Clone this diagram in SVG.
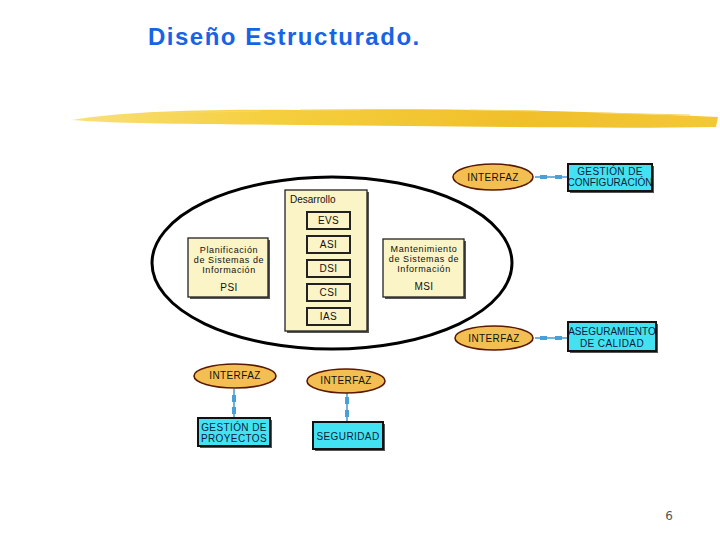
<svg xmlns="http://www.w3.org/2000/svg" width="720" height="540" viewBox="0 0 720 540">
<defs>
<linearGradient id="brush" x1="0" y1="0" x2="1" y2="0">
<stop offset="0" stop-color="#f9e07a"/>
<stop offset="0.3" stop-color="#f5cf3e"/>
<stop offset="0.7" stop-color="#f0bf2a"/>
<stop offset="1" stop-color="#f3c838"/>
</linearGradient>
<style>
.t{font-family:"Liberation Sans",Arial,sans-serif;font-size:10px;fill:#111;text-anchor:middle;letter-spacing:0.4px}
.s{font-size:9px;letter-spacing:0.6px}
.ty{fill:#fbf4c6;stroke:#222;stroke-width:1.3}
.tin{fill:#fbf4c6;stroke:#222;stroke-width:2}
.sh{fill:#555}
.cy{fill:#42e2f2;stroke:#111;stroke-width:2}
.ifz{fill:#f4bf52;stroke:#5a1800;stroke-width:1.6}
.cl{stroke:#4a9fd6;stroke-width:1.6;fill:none}
.sq{fill:#4a9fd6}
</style>
</defs>
<rect width="720" height="540" fill="#fff"/>
<text x="148" y="45" font-family="Liberation Sans,Arial,sans-serif" font-weight="bold" font-size="24" letter-spacing="1.5" fill="#1763e6">Diseño Estructurado.</text>
<path d="M72,120 C120,112 200,109 300,110 C420,108 560,110 718,117 L716,127 C600,129 450,126 300,125 C200,124 120,124 72,120 Z" fill="url(#brush)"/>
<path d="M150,113 L260,111 M300,110 L360,110 M470,110 L540,111 M600,113 L690,115" stroke="#f7d866" stroke-width="1" fill="none"/>

<g id="ciclo">
<ellipse cx="332" cy="263" rx="180" ry="86" fill="none" stroke="#000" stroke-width="3"/>
</g>

<g id="connectors">
<line class="cl" x1="535" y1="177" x2="567" y2="177"/>
<rect class="sq" x="540" y="175" width="7" height="4"/>
<rect class="sq" x="555" y="175" width="7" height="4"/>
<line class="cl" x1="535" y1="338" x2="567" y2="338"/>
<rect class="sq" x="540" y="336" width="7" height="4"/>
<rect class="sq" x="555" y="336" width="7" height="4"/>
<line class="cl" x1="234" y1="389" x2="234" y2="418"/>
<rect class="sq" x="232" y="395" width="4" height="7"/>
<rect class="sq" x="232" y="407" width="4" height="7"/>
<line class="cl" x1="347" y1="393" x2="347" y2="422"/>
<rect class="sq" x="345" y="397" width="4" height="7"/>
<rect class="sq" x="345" y="410" width="4" height="7"/>
</g>

<g id="psi">
<rect class="sh" x="190" y="240" width="80" height="59"/>
<rect class="ty" x="188" y="238" width="80" height="59"/>
<text class="t s" x="229" y="253">Planificación</text>
<text class="t s" x="229" y="263">de Sistemas de</text>
<text class="t s" x="229" y="273">Información</text>
<text class="t" x="229" y="291">PSI</text>
</g>

<g id="desarrollo">
<rect class="sh" x="287" y="192" width="82" height="141"/>
<rect class="ty" x="285" y="190" width="82" height="141"/>
<text class="t" x="290" y="203" style="text-anchor:start;letter-spacing:0">Desarrollo</text>
</g>
<g id="evs"><rect class="tin" x="307" y="212" width="43" height="17"/><text class="t" x="328.5" y="224">EVS</text></g>
<g id="asi"><rect class="tin" x="307" y="236" width="43" height="17"/><text class="t" x="328.5" y="248">ASI</text></g>
<g id="dsi"><rect class="tin" x="307" y="260" width="43" height="17"/><text class="t" x="328.5" y="272">DSI</text></g>
<g id="csi"><rect class="tin" x="307" y="284" width="43" height="17"/><text class="t" x="328.5" y="296">CSI</text></g>
<g id="ias"><rect class="tin" x="307" y="308" width="43" height="17"/><text class="t" x="328.5" y="320">IAS</text></g>

<g id="msi">
<rect class="sh" x="385" y="241" width="81" height="58"/>
<rect class="ty" x="383" y="239" width="81" height="58"/>
<text class="t s" x="424" y="252">Mantenimiento</text>
<text class="t s" x="424" y="262">de Sistemas de</text>
<text class="t s" x="424" y="272">Información</text>
<text class="t" x="424" y="290">MSI</text>
</g>

<g id="interfaz1">
<ellipse class="ifz" cx="493" cy="177" rx="40" ry="13"/>
<text class="t" x="493" y="181">INTERFAZ</text>
</g>
<g id="gestion-config">
<rect class="sh" x="570" y="166" width="84" height="27"/>
<rect class="cy" x="568" y="164" width="84" height="27"/>
<text class="t" x="610" y="175" style="fill:#0d1b3a">GESTIÓN DE</text>
<text class="t" x="610" y="186" style="fill:#0d1b3a;letter-spacing:0">CONFIGURACIÓN</text>
</g>

<g id="interfaz2">
<ellipse class="ifz" cx="494" cy="338" rx="39" ry="12"/>
<text class="t" x="494" y="342">INTERFAZ</text>
</g>
<g id="aseguramiento">
<rect class="sh" x="570" y="324" width="88" height="29"/>
<rect class="cy" x="568" y="322" width="88" height="29"/>
<text class="t" x="612" y="335" style="fill:#0d1b3a;letter-spacing:0">ASEGURAMIENTO</text>
<text class="t" x="612" y="347" style="fill:#0d1b3a">DE CALIDAD</text>
</g>

<g id="interfaz3">
<ellipse class="ifz" cx="235" cy="376" rx="41" ry="12"/>
<text class="t" x="235" y="379">INTERFAZ</text>
</g>
<g id="gestion-proyectos">
<rect class="sh" x="200" y="420" width="72" height="28"/>
<rect class="cy" x="198" y="418" width="72" height="28"/>
<text class="t" x="234" y="431" style="fill:#0d1b3a">GESTIÓN DE</text>
<text class="t" x="234" y="442" style="fill:#0d1b3a">PROYECTOS</text>
</g>

<g id="interfaz4">
<ellipse class="ifz" cx="346" cy="381" rx="39" ry="12"/>
<text class="t" x="346" y="384">INTERFAZ</text>
</g>
<g id="seguridad">
<rect class="sh" x="315" y="424" width="70" height="27"/>
<rect class="cy" x="313" y="422" width="70" height="27"/>
<text class="t" x="348" y="440" style="fill:#0d1b3a">SEGURIDAD</text>
</g>

<text x="669" y="520" font-family="DejaVu Sans,sans-serif" font-size="12" fill="#555" text-anchor="middle">6</text>
</svg>
